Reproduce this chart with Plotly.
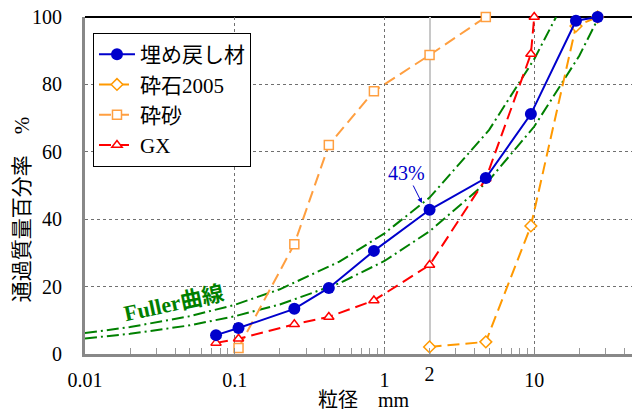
import plotly.graph_objects as go

# ---- data ----
sieve = [0.075, 0.106, 0.25, 0.425, 0.85, 2, 4.75, 9.5, 19, 26.5]
backfill = [5.6, 7.7, 13.4, 19.6, 30.6, 42.8, 52.2, 71.2, 98.9, 100]

crushed_x = [2, 4.75, 9.5, 19, 26.5]
crushed_y = [2.1, 3.6, 38.0, 97.3, 100]

sand_x = [0.106, 0.25, 0.425, 0.85, 2, 4.75]
sand_y = [1.8, 32.6, 62.0, 78.0, 88.7, 100]

gx_x = [0.075, 0.106, 0.25, 0.425, 0.85, 2, 4.75, 9.5, 10]
gx_y = [3.3, 4.5, 8.8, 11.0, 15.9, 26.4, 52.0, 89.0, 100]

fuller_hi_x = [0.01, 0.02, 0.05, 0.1, 0.2, 0.5, 1, 2, 5, 10, 14]
fuller_hi_y = [6.2, 8.0, 11.2, 14.6, 19.2, 27.4, 35.8, 46.4, 66.5, 87.5, 100]
fuller_lo_x = [0.01, 0.02, 0.05, 0.1, 0.2, 0.5, 1, 2, 5, 10, 20, 27]
fuller_lo_y = [4.6, 6.0, 8.5, 11.2, 14.7, 21.0, 27.6, 36.4, 51.6, 67.5, 88.5, 100]

x_ticks = [0.01, 0.1, 1, 10]
x_tick_labels = ["0.01", "0.1", "1", "10"]
x_extra_tick = [2]
y_ticks = [0, 20, 40, 60, 80, 100]

FONT = "Liberation Serif, 'Noto Sans CJK JP', serif"
BLUE = "#0000CC"
ORANGE = "#FF9900"
LORANGE = "#FF9F40"
RED = "#FF0000"
GREEN = "#008000"

fig = go.Figure()

fuller_style = dict(color=GREEN, width=2, dash="12px,4px,2px,4px")
fig.add_trace(go.Scatter(x=fuller_hi_x, y=fuller_hi_y, mode="lines",
                         line=fuller_style, showlegend=False, hoverinfo="skip"))
fig.add_trace(go.Scatter(x=fuller_lo_x, y=fuller_lo_y, mode="lines",
                         line=fuller_style, showlegend=False, hoverinfo="skip"))

fig.add_trace(go.Scatter(x=sand_x, y=sand_y, mode="lines+markers", name="砕砂",
                         legendrank=3, cliponaxis=False,
                         line=dict(color=LORANGE, width=2, dash="12px,6px"),
                         marker=dict(symbol="square", size=9, color="white",
                                     line=dict(color=LORANGE, width=1.5))))
fig.add_trace(go.Scatter(x=crushed_x, y=crushed_y, mode="lines+markers", name="砕石2005",
                         legendrank=2, cliponaxis=False,
                         line=dict(color=ORANGE, width=2, dash="12px,6px"),
                         marker=dict(symbol="diamond", size=9, color="white",
                                     line=dict(color=ORANGE, width=1.5))))
fig.add_trace(go.Scatter(x=gx_x, y=gx_y, mode="lines+markers", name="GX",
                         legendrank=4, cliponaxis=False,
                         line=dict(color=RED, width=2, dash="12px,6px"),
                         marker=dict(symbol="triangle-up", size=9, color="white",
                                     line=dict(color=RED, width=1.5))))
fig.add_trace(go.Scatter(x=sieve, y=backfill, mode="lines+markers", name="埋め戻し材",
                         legendrank=1, cliponaxis=False,
                         line=dict(color=BLUE, width=2),
                         marker=dict(symbol="circle", size=12, color=BLUE)))

# dummy trace for secondary x axis (tick "2" with solid light grid)
fig.add_trace(go.Scatter(x=x_extra_tick, y=[None], xaxis="x2", showlegend=False,
                         hoverinfo="skip"))

minor_vals = [m * 10 ** e for e in range(-2, 2) for m in range(2, 10)]

fig.update_layout(
    width=632, height=412,
    margin=dict(l=85, r=0, t=17, b=58),
    paper_bgcolor="white", plot_bgcolor="white",
    font=dict(family=FONT, size=20, color="black"),
    showlegend=True,
    legend=dict(x=0.0146, y=0.9525, xanchor="left", yanchor="top",
                bgcolor="white", bordercolor="black", borderwidth=1,
                traceorder="normal", font=dict(size=21), itemwidth=36),
    xaxis=dict(type="log", range=[-2, 1.653], automargin=False,
               tickvals=x_ticks, ticktext=x_tick_labels,
               showgrid=True, gridcolor="#707070", griddash="3px,3px", gridwidth=1,
               showline=True, linecolor="#888888", linewidth=3,
               ticks="inside", ticklen=6, tickcolor="#888888",
               minor=dict(tickvals=minor_vals, ticks="inside", ticklen=6,
                          tickcolor="#999999", showgrid=False),
               ticklabelstandoff=6, zeroline=False, ticklabeloverflow="allow"),
    xaxis2=dict(type="log", range=[-2, 1.653], overlaying="x", side="bottom",
                automargin=False,
                tickvals=x_extra_tick, ticktext=["2"],
                showgrid=True, gridcolor="#C8C8C8", gridwidth=2,
                showline=False, ticks="", ticklabelstandoff=6),
    yaxis=dict(range=[0, 100], tickvals=y_ticks, automargin=False,
               showgrid=True, gridcolor="#707070", griddash="3px,3px", gridwidth=1,
               showline=True, linecolor="#888888", linewidth=3,
               ticks="", ticklabelstandoff=16, zeroline=False,
               ticklabeloverflow="allow"),
    shapes=[dict(type="line", xref="paper", yref="paper", x0=0, x1=1, y0=1, y1=1,
                 line=dict(color="black", width=2), layer="below")],
    annotations=[
        dict(text="通過質量百分率　%", xref="paper", yref="paper",
             x=-0.115, y=0.43, xanchor="center", yanchor="middle",
             textangle=-90, showarrow=False, font=dict(size=21)),
        dict(text="粒径　mm", xref="paper", yref="paper",
             x=0.51, y=-0.136, xanchor="center", yanchor="middle",
             showarrow=False, font=dict(size=20)),
        dict(text="<b>Fuller曲線</b>", xref="paper", yref="paper",
             x=0.161, y=0.151, xanchor="center", yanchor="middle",
             textangle=-12, showarrow=False,
             font=dict(size=22, color=GREEN)),
        dict(text="43%", xref="paper", yref="paper", x=0.616, y=0.448,
             ax=-15, ay=-30, showarrow=True, arrowhead=2, arrowsize=1,
             arrowwidth=1, arrowcolor=BLUE, font=dict(size=20, color=BLUE)),
    ],
)

# remove the browser's default 8px page margin so the figure fills the window
fig.write_html("out.html", config={"displayModeBar": False},
               post_script="document.body.style.margin='0';")
